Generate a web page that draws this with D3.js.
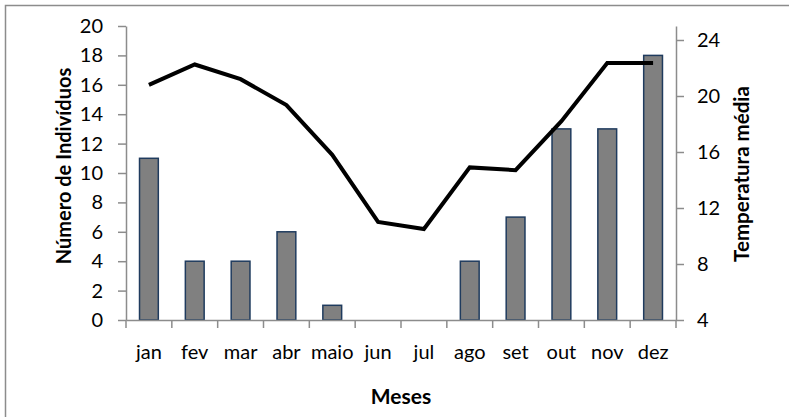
<!DOCTYPE html>
<html>
<head>
    <title>Número de Indivíduos e Temperatura média</title>
    <script src="https://d3js.org/d3.v7.min.js"></script>
    <style>
        body { margin: 0; background: #fff; }
        text { font-family: Lato, "Open Sans", sans-serif; }
    </style>
</head>
<body>
    <div id="chart"></div>

    <script>
        const months = ["jan", "fev", "mar", "abr", "maio", "jun", "jul", "ago", "set", "out", "nov", "dez"];
        const individuos = [11, 4, 4, 6, 1, 0, 0, 4, 7, 13, 13, 18];
        const temperatura = [20.8, 22.25, 21.2, 19.35, 15.8, 11.0, 10.5, 14.9, 14.7, 18.2, 22.35, 22.35];
        const leftTicks = [0, 2, 4, 6, 8, 10, 12, 14, 16, 18, 20];
        const rightTicks = [4, 8, 12, 16, 20, 24];

        const W = 789, H = 417;
        const margin = {top: 26, right: 113, bottom: 97, left: 126};
        const width = W - margin.left - margin.right;
        const height = H - margin.top - margin.bottom;

        const root = d3.select("#chart").append("svg")
            .attr("width", W)
            .attr("height", H);

        // outer chart frame (cropped on right and bottom)
        root.append("rect")
            .attr("x", 5.5).attr("y", 5.5)
            .attr("width", 820).attr("height", 460)
            .attr("fill", "none")
            .attr("stroke", "#8c8c8c")
            .attr("stroke-width", 1.5);

        const svg = root.append("g")
            .attr("transform", "translate(" + margin.left + "," + margin.top + ")");

        const x = d3.scaleBand()
            .domain(months)
            .range([0, width])
            .paddingInner(0.59)
            .paddingOuter(0.295);

        const xOuter = d3.scaleBand().domain(months).range([0, width]);

        const y = d3.scaleLinear().domain([0, 20]).range([height, 0]);
        const y2 = d3.scaleLinear().domain([4, 25]).range([height, 0]);

        svg.selectAll("rect.bar")
            .data(months)
            .enter().append("rect")
            .attr("class", "bar")
            .attr("x", d => x(d))
            .attr("width", x.bandwidth())
            .attr("y", (d, i) => y(individuos[i]))
            .attr("height", (d, i) => height - y(individuos[i]))
            .style("fill", "#808080")
            .style("stroke", "#1f3b5e")
            .style("stroke-width", 1.5);

        const line = d3.line()
            .x((d, i) => xOuter(months[i]) + xOuter.bandwidth() / 2)
            .y(d => y2(d));

        svg.append("path")
            .datum(temperatura)
            .attr("d", line)
            .attr("fill", "none")
            .attr("stroke", "#000")
            .attr("stroke-width", 4)
            .attr("stroke-linejoin", "miter");

        const axisColor = "#8c8c8c";
        function styleAxis(g) {
            g.selectAll("path.domain").attr("stroke", axisColor).attr("stroke-width", 1.5);
            g.selectAll(".tick line").attr("stroke", axisColor).attr("stroke-width", 1.5);
            g.selectAll(".tick text").attr("fill", "#000").style("font-size", "20px");
        }

        // x axis: ticks on band boundaries
        const gx = svg.append("g")
            .attr("transform", "translate(0," + height + ")")
            .call(d3.axisBottom(xOuter).tickSize(0).tickPadding(0))
            .call(styleAxis);
        gx.selectAll(".tick text").attr("dy", null).attr("y", 39);
        gx.selectAll(".boundary")
            .data(d3.range(months.length + 1))
            .enter().append("line")
            .attr("x1", i => i * xOuter.step())
            .attr("x2", i => i * xOuter.step())
            .attr("y1", 0).attr("y2", 8)
            .attr("stroke", axisColor).attr("stroke-width", 1.5);

        const gy = svg.append("g")
            .call(d3.axisLeft(y).tickValues(leftTicks).tickSize(8).tickPadding(15).tickSizeOuter(0))
            .call(styleAxis);

        const gy2 = svg.append("g")
            .attr("transform", "translate(" + width + ",0)")
            .call(d3.axisRight(y2).tickValues(rightTicks).tickSize(8).tickPadding(13).tickSizeOuter(0))
            .call(styleAxis);

        root.append("text")
            .attr("x", margin.left + width / 2)
            .attr("y", 404)
            .attr("text-anchor", "middle")
            .style("font-size", "21px")
            .style("font-weight", "bold")
            .text("Meses");

        root.append("text")
            .attr("transform", "translate(71,166) rotate(-90)")
            .attr("text-anchor", "middle")
            .style("font-size", "20px")
            .style("font-weight", "bold")
            .text("Número de Indivíduos");

        root.append("text")
            .attr("transform", "translate(749,174) rotate(-90)")
            .attr("text-anchor", "middle")
            .style("font-size", "20.5px")
            .style("font-weight", "bold")
            .text("Temperatura média");
    </script>
</body>
</html>
